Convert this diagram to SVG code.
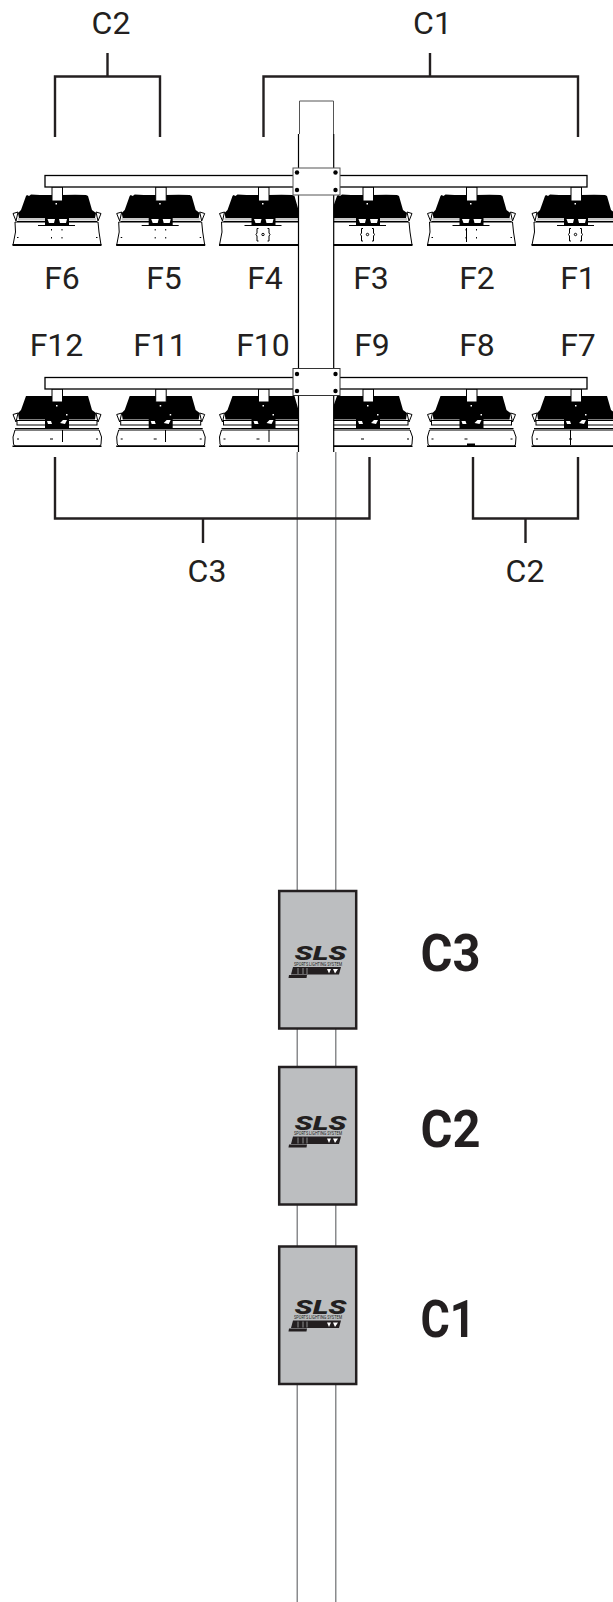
<svg xmlns="http://www.w3.org/2000/svg" width="613" height="1602" viewBox="0 0 613 1602">
<style>
text{font-family:Roboto,"Liberation Sans",sans-serif;fill:#231f20}
.lbl{font-size:32px;text-anchor:middle}
.big{font-size:52px;font-weight:700}
.br{fill:none;stroke:#231f20;stroke-width:2.4}
.pl{fill:none;stroke:#000;stroke-width:1.2}
.plg{fill:none;stroke:#6d6e71;stroke-width:1.2}
.bar{fill:#fff;stroke:#000;stroke-width:1.3}
.box{fill:#bcbec0;stroke:#231f20;stroke-width:2.5}
.k{fill:#000}.w{fill:#fff}
.o{fill:#fff;stroke:#000;stroke-width:1}
.t{fill:none;stroke:#000;stroke-width:1}
.g{fill:#c8c8c8}
</style>
<defs>
<g id="lumA">
<path class="o" d="M15,222 L15.500,232 L13,245 L101,245 L99,232 L98,222 Z"/>
<path class="k" d="M26,196 L27,195 L29,196 L31,194.500 L40,195 L52,195 L62,195 L75,194.800 L86,195 L88,196 L92,210 L96,213 L95,218 L19,218 L18,213 L21,210 Z"/>
<rect class="g" x="18" y="218" width="78" height="2.500"/>
<path class="t" d="M17,221.500H97"/>
<rect class="k" x="45" y="218" width="24" height="7.500"/>
<path class="w" d="M47.500,219H55L54,223H49ZM59,219H67L66,223H60Z"/>
<path class="t" d="M38,225.500H75"/>
<path class="k" d="M12.500,244H101.500V246H12.500Z"/>
<path class="o" d="M13,213.500 L18,212 L16,221 Z"/>
<path class="o" d="M101,213.500 L96,212 L98,221 Z"/>
<rect class="o" x="52" y="187" width="10.500" height="14"/>
<rect class="w" x="55.500" y="203" width="1.500" height="1.500"/>
</g>
<g id="lumB">
<path class="o" d="M15,430 L13,437 L13.500,444 Q14,446 16,446 L99,446 Q101,446 101,444 L101.500,437 L99,430 Z"/>
<path class="k" d="M26,396 L88,396 L92,410 L96,413 L95,419.500 L19,419.500 L18,413 L21,410 Z"/>
<rect class="o" x="17" y="420.500" width="80" height="4.500"/>
<path class="t" d="M15,428.500H99"/>
<rect class="k" x="45" y="419" width="24" height="9.500"/>
<path class="k" d="M12.500,445.500H101.500V447H12.500Z"/>
<path class="o" d="M13,414.500 L18,413 L16,422 Z"/>
<path class="o" d="M101,414.500 L96,413 L98,422 Z"/>
<rect class="o" x="52" y="389" width="10.500" height="13"/>
<path class="w" d="M47,421H51L52,424H48ZM60,423L63,420H67L65,424Z"/>
<rect class="w" x="56" y="405" width="1.500" height="1.500"/><rect class="w" x="66" y="414" width="1.500" height="1.500"/>
<rect class="k" x="50" y="438.500" width="3" height="1"/>
<rect class="k" x="17" y="438.500" width="2" height="1"/>
<rect class="k" x="96" y="438.500" width="2" height="1"/>
</g>
<g id="dotsA">
<rect class="k" x="51" y="229" width="1" height="1.500"/><rect class="k" x="61.500" y="229" width="1" height="1.500"/>
<rect class="k" x="51" y="237" width="1" height="1.500"/><rect class="k" x="61.500" y="237" width="1" height="1.500"/>
<rect class="k" x="17" y="237" width="1.500" height="1"/><rect class="k" x="96" y="237" width="1.500" height="1"/>
</g>
<g id="cageA">
<path class="t" d="M52,228.500H50.500V233L49.500,234.500L50.500,236V241H52M61,228.500H62.500V233L63.500,234.500L62.500,236V241H61"/>
<circle cx="56.500" cy="234.500" r="1.200" class="t" stroke-width=".6"/>
</g>
<g id="logo">
<text x="320.500" y="22" text-anchor="middle" font-weight="900" font-style="italic" textLength="52" lengthAdjust="spacingAndGlyphs" style="font-size:20px">SLS</text>
<text x="318" y="27.500" text-anchor="middle" style="font-size:4.600px" textLength="48" lengthAdjust="spacingAndGlyphs">SPORTS LIGHTING SYSTEM</text>
<path fill="#231f20" d="M293,29H341L339,36.500H291Z"/>
<path d="M298,30V36M303,30V36M307,30V36" stroke="#bcbec0" stroke-width=".7" fill="none"/>
<path d="M327,31H331L329,35.500ZM333,31H338L335,35.500Z" fill="#fff"/>
<path fill="#231f20" d="M289,37H307L306.500,40H288.500Z"/>
</g>
</defs>

<g id="F6"><use href="#lumA"/><use href="#dotsA"/><text class="lbl" x="62" y="288.500">F6</text></g>
<g id="F5"><use href="#lumA" x="103.700"/><use href="#dotsA" x="103.700"/><text class="lbl" x="164" y="288.500">F5</text></g>
<g id="F4"><use href="#lumA" x="206.500"/><use href="#cageA" x="206.500"/><text class="lbl" x="265" y="288.500">F4</text></g>
<g id="F3"><use href="#lumA" x="311"/><use href="#cageA" x="311"/><text class="lbl" x="371" y="288.500">F3</text></g>
<g id="F2"><use href="#lumA" x="414.500"/><use href="#dotsA" x="414.500"/><path class="t" d="M466.500,228V242"/><text class="lbl" x="477" y="288.500">F2</text></g>
<g id="F1"><use href="#lumA" x="519"/><use href="#cageA" x="519"/><text class="lbl" x="578" y="288.500">F1</text></g>

<g id="F12"><use href="#lumB"/><path class="t" d="M62.500,430V442"/><text class="lbl" x="56.500" y="356">F12</text></g>
<g id="F11"><use href="#lumB" x="103.700"/><path class="t" d="M165.500,430V442"/><text class="lbl" x="160" y="356">F11</text></g>
<g id="F10"><use href="#lumB" x="206.500"/><path class="t" d="M269,430V442"/><text class="lbl" x="263" y="356">F10</text></g>
<g id="F9"><use href="#lumB" x="311"/><text class="lbl" x="372" y="356">F9</text></g>
<g id="F8"><use href="#lumB" x="414.500"/><rect class="k" x="467" y="443.500" width="8" height="2.500"/><text class="lbl" x="477" y="356">F8</text></g>
<g id="F7"><use href="#lumB" x="519"/><path class="t" d="M570.500,430V445"/><text class="lbl" x="578" y="356">F7</text></g>

<g id="arm-upper"><rect class="bar" x="45" y="175.500" width="542" height="11.500"/></g>
<g id="arm-lower"><rect class="bar" x="45" y="377.500" width="542" height="11.500"/></g>

<g id="pole">
<path fill="#fff" d="M299.500,101H333.500V452H335.700V1602H297V452H298Z"/>
<path d="M299.500,134V101H333.500V134" fill="none" stroke="#555" stroke-width="1"/>
<path class="pl" d="M298.500,134V452"/>
<path class="pl" d="M333.700,134V452"/>
<path class="plg" d="M297.200,452V1602"/>
<path class="plg" d="M335.800,452V1602"/>
</g>

<g id="bracket-upper"><rect x="293" y="168" width="47" height="27" fill="#fff" stroke="#555" stroke-width="1"/>
<circle class="k" cx="297" cy="172.500" r="2.200"/><circle class="k" cx="335.500" cy="172.500" r="2.200"/><circle class="k" cx="297" cy="190" r="2.200"/><circle class="k" cx="335.500" cy="190" r="2.200"/></g>
<g id="bracket-lower"><rect x="293" y="368.500" width="47" height="27" fill="#fff" stroke="#333" stroke-width="1"/>
<circle class="k" cx="297" cy="374" r="2.200"/><circle class="k" cx="335.500" cy="374" r="2.200"/><circle class="k" cx="297" cy="391" r="2.200"/><circle class="k" cx="335.500" cy="391" r="2.200"/></g>

<g id="connectors">
<path class="br" d="M55,137V76.500H160V137M107.500,53V76.500"/>
<path class="br" d="M263.500,137V76.500H578V137M430,53V76.500"/>
<path class="br" d="M55,457V518.500H369.500V457M203,518.500V543"/>
<path class="br" d="M473,457V518.500H578V457M525.500,518.500V543"/>
</g>
<g id="label-C2-top"><text class="lbl" x="111" y="34">C2</text></g>
<g id="label-C1-top"><text class="lbl" x="432.500" y="34">C1</text></g>
<g id="label-C3-bottom"><text class="lbl" x="207" y="581.500">C3</text></g>
<g id="label-C2-bottom"><text class="lbl" x="525" y="581.500">C2</text></g>

<g id="C3"><rect class="box" x="279.200" y="891" width="77" height="137.500"/><use href="#logo" y="938"/><text class="big" x="420.500" y="971" textLength="60" lengthAdjust="spacingAndGlyphs">C3</text></g>
<g id="C2"><rect class="box" x="279.200" y="1067" width="77" height="137.500"/><use href="#logo" y="1107.500"/><text class="big" x="420.500" y="1147" textLength="60" lengthAdjust="spacingAndGlyphs">C2</text></g>
<g id="C1"><rect class="box" x="279.200" y="1246.500" width="77" height="137.500"/><use href="#logo" y="1291.500"/><text class="big" x="420.500" y="1337" textLength="55" lengthAdjust="spacingAndGlyphs">C1</text></g>
</svg>
